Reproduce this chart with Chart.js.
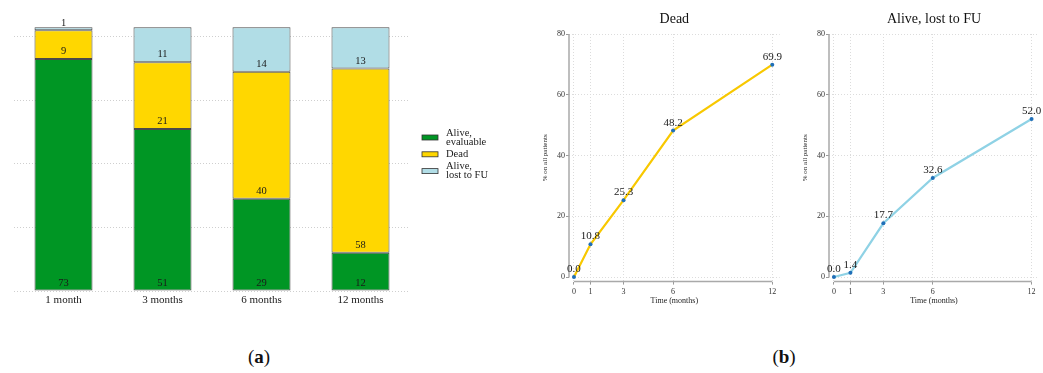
<!DOCTYPE html>
<html>
<head>
<meta charset="utf-8">
<script src="https://cdn.jsdelivr.net/npm/chart.js@4/dist/chart.umd.min.js"></script>
<style>
  html, body { margin: 0; padding: 0; background: #ffffff; }
  body { width: 1043px; height: 373px; position: relative; overflow: hidden; }
  canvas { position: absolute; }
  .panel-tag {
    position: absolute; width: 60px; text-align: center;
    font-family: "Liberation Serif", serif; font-size: 19px; color: #111;
    line-height: 20px;
  }
</style>
</head>
<body>
<canvas id="stack" style="left:0;top:0;" width="520" height="315"></canvas>
<canvas id="deadLine" style="left:520px;top:0;" width="264" height="310"></canvas>
<canvas id="lostLine" style="left:780px;top:0;" width="263" height="310"></canvas>
<div class="panel-tag" style="left:229px;top:347px;">(<b>a</b>)</div>
<div class="panel-tag" style="left:754px;top:347px;">(<b>b</b>)</div>
<script>
// Patient status at each follow-up visit (counts)
const visits = ['1 month', '3 months', '6 months', '12 months'];
const aliveEvaluable = [73, 51, 29, 12];
const dead = [9, 21, 40, 58];
const aliveLostFU = [1, 11, 14, 13];
const statusLabels = [['Alive,', 'evaluable'], ['Dead'], ['Alive,', 'lost to FU']];

// Cumulative percentages over time (months)
const timeMonths = [0, 1, 3, 6, 12];
const deadPct = [0.0, 10.8, 25.3, 48.2, 69.9];
const lostPct = [0.0, 1.4, 17.7, 32.6, 52.0];
const pctTicks = [0, 20, 40, 60, 80];

const SERIF = '"Liberation Serif", "DejaVu Serif", serif';
const GREEN = '#009624';
const GOLD = '#ffd700';
const LIGHTBLUE = '#b1dde6';

// ---------- (a) stacked bars ----------
const segmentLabels = {
  id: 'segmentLabels',
  afterDatasetsDraw(chart) {
    const ctx = chart.ctx;
    ctx.save();
    ctx.font = '10.5px ' + SERIF;
    ctx.fillStyle = '#1a1a1a';
    ctx.textAlign = 'center';
    ctx.textBaseline = 'middle';
    chart.data.datasets.forEach((ds, di) => {
      chart.getDatasetMeta(di).data.forEach((bar, i) => {
        ctx.fillText(String(ds.data[i]), bar.x, bar.base - 7.5);
      });
    });
    ctx.restore();
  }
};

const sideLegend = {
  id: 'sideLegend',
  afterDraw(chart) {
    const ctx = chart.ctx;
    ctx.save();
    ctx.font = '10.5px ' + SERIF;
    ctx.textBaseline = 'middle';
    chart.data.datasets.forEach((ds, i) => {
      const lines = statusLabels[i];
      const cy = 137.5 + i * 16.8;
      const lh = 9;
      ctx.fillStyle = ds.backgroundColor;
      ctx.fillRect(422, cy - 2.5, 16, 5);
      ctx.strokeStyle = '#333';
      ctx.lineWidth = 0.8;
      ctx.strokeRect(422, cy - 2.5, 16, 5);
      ctx.fillStyle = '#1a1a1a';
      const y0 = cy - (lines.length - 1) * lh / 2;
      lines.forEach((t, k) => ctx.fillText(t, 446, y0 + k * lh));
    });
    ctx.restore();
  }
};

new Chart(document.getElementById('stack'), {
  type: 'bar',
  data: {
    labels: visits,
    datasets: [
      { label: statusLabels[0].join(' '), data: aliveEvaluable, backgroundColor: GREEN },
      { label: statusLabels[1].join(' '), data: dead, backgroundColor: GOLD },
      { label: statusLabels[2].join(' '), data: aliveLostFU, backgroundColor: LIGHTBLUE }
    ].map(d => Object.assign(d, {
      borderColor: '#4a4a4a', borderWidth: 1, borderSkipped: false,
      barPercentage: 0.586, categoryPercentage: 1
    }))
  },
  options: {
    responsive: false, animation: false,
    layout: { padding: { left: 14, right: 110, top: 24, bottom: 0 } },
    plugins: { legend: { display: false }, tooltip: { enabled: false } },
    scales: {
      x: {
        stacked: true,
        grid: { display: false, drawTicks: false },
        border: { display: false },
        ticks: { font: { family: SERIF, size: 11 }, color: '#1a1a1a', padding: 3 },
        afterFit(s) { s.height = 24; }
      },
      y: {
        stacked: true, min: 0, max: 84,
        afterBuildTicks(s) { s.ticks = pctTicks.map(v => ({ value: v })); },
        ticks: { display: false },
        grid: { color: '#cfcfcf', lineWidth: 1, drawTicks: false },
        border: { display: false, dash: [1, 2] },
        afterFit(s) { s.width = 0; }
      }
    }
  },
  plugins: [segmentLabels, sideLegend]
});

// ---------- (b) cumulative lines ----------
const panelTitle = {
  id: 'panelTitle',
  afterDraw(chart, args, opts) {
    const ctx = chart.ctx, a = chart.chartArea;
    ctx.save();
    ctx.font = '14px ' + SERIF;
    ctx.fillStyle = '#111';
    ctx.textAlign = 'center';
    ctx.textBaseline = 'middle';
    ctx.fillText(opts.text, (a.left + a.right) / 2, 19.5);
    ctx.restore();
  }
};

const axisLines = {
  id: 'axisLines',
  beforeDatasetsDraw(chart) {
    const ctx = chart.ctx, a = chart.chartArea;
    const xs = chart.scales.x, ys = chart.scales.y;
    ctx.save();
    ctx.strokeStyle = '#a9a9a9';
    ctx.lineWidth = 1.5;
    ctx.beginPath();
    ctx.moveTo(a.left, ys.getPixelForValue(pctTicks[pctTicks.length - 1]));
    ctx.lineTo(a.left, ys.getPixelForValue(0));
    ctx.moveTo(xs.getPixelForValue(timeMonths[0]), a.bottom);
    ctx.lineTo(xs.getPixelForValue(timeMonths[timeMonths.length - 1]), a.bottom);
    ctx.stroke();
    ctx.restore();
  }
};

const pointValues = {
  id: 'pointValues',
  afterDatasetsDraw(chart) {
    const ctx = chart.ctx;
    ctx.save();
    ctx.font = '11px ' + SERIF;
    ctx.fillStyle = '#1a1a1a';
    ctx.textAlign = 'center';
    ctx.textBaseline = 'middle';
    chart.getDatasetMeta(0).data.forEach((pt, i) => {
      ctx.fillText(chart.data.datasets[0].data[i].y.toFixed(1), pt.x, pt.y - 8);
    });
    ctx.restore();
  }
};

function cumulativeChart(id, title, values, color, padRight) {
  return new Chart(document.getElementById(id), {
    type: 'line',
    data: {
      datasets: [{
        label: title,
        data: timeMonths.map((t, i) => ({ x: t, y: values[i] })),
        borderColor: color, borderWidth: 2.2, tension: 0,
        pointRadius: 2, pointBackgroundColor: '#1f6fb8', pointBorderWidth: 0
      }]
    },
    options: {
      responsive: false, animation: false,
      layout: { padding: { left: 0, right: padRight, top: 34, bottom: 0 } },
      plugins: {
        legend: { display: false }, tooltip: { enabled: false },
        panelTitle: { text: title }
      },
      scales: {
        x: {
          type: 'linear', min: -0.3, max: 12.45,
          afterBuildTicks(s) { s.ticks = timeMonths.map(v => ({ value: v })); },
          ticks: { font: { family: SERIF, size: 8 }, color: '#333', padding: 2.5 },
          grid: { color: '#dcdcdc', lineWidth: 1, tickLength: 3, tickColor: '#9a9a9a', tickWidth: 1 },
          border: { display: false, dash: [1, 2] },
          title: { display: true, text: 'Time (months)', font: { family: SERIF, size: 8 }, color: '#222', padding: { top: 0, bottom: 4 } },
          afterFit(s) { s.height = 28.4; }
        },
        y: {
          min: -1.5, max: 80,
          afterBuildTicks(s) { s.ticks = pctTicks.map(v => ({ value: v })); },
          ticks: { font: { family: SERIF, size: 8 }, color: '#333', padding: 1 },
          grid: { color: '#dcdcdc', lineWidth: 1, tickLength: 3, tickColor: '#9a9a9a', tickWidth: 1 },
          border: { display: false, dash: [1, 2] },
          title: { display: true, text: '% on all patients', font: { family: SERIF, size: 7 }, color: '#222', padding: { top: 21, bottom: 0 } },
          afterFit(s) { s.width = 49; }
        }
      }
    },
    plugins: [axisLines, pointValues, panelTitle]
  });
}

cumulativeChart('deadLine', 'Dead', deadPct, '#f8c800', 4.3);
cumulativeChart('lostLine', 'Alive, lost to FU', lostPct, '#8fd2e5', 3.3);
</script>
</body>
</html>
